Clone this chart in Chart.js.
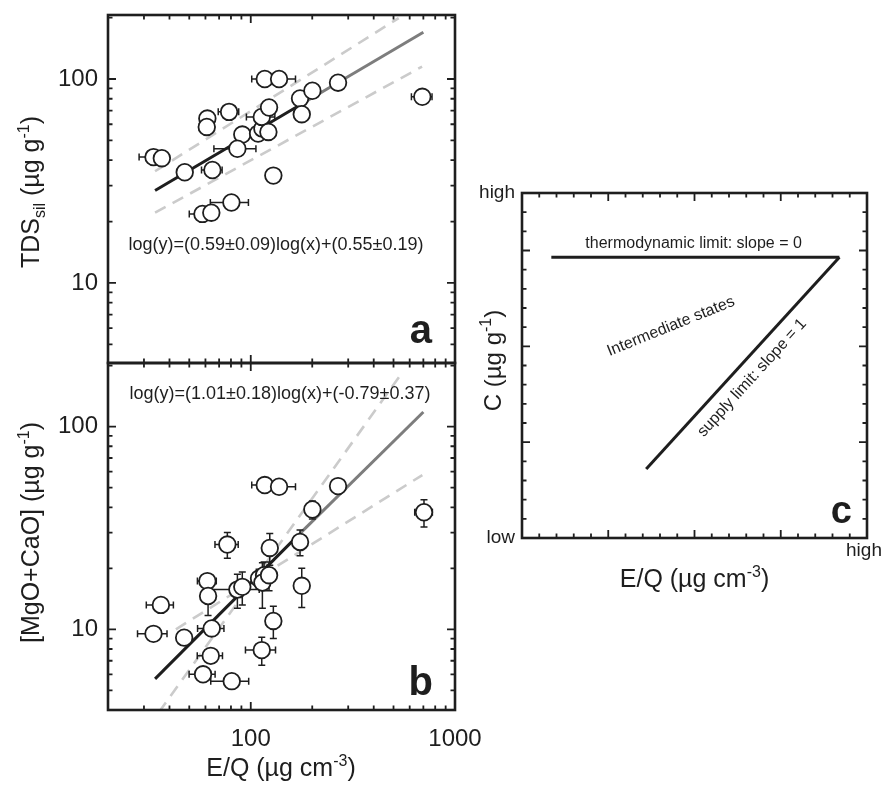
<!DOCTYPE html>
<html>
<head>
<meta charset="utf-8">
<title>E/Q vs concentração</title>
<script src="https://cdn.jsdelivr.net/npm/chart.js@4.4.1/dist/chart.umd.min.js"></script>
<style>
  html, body { margin: 0; padding: 0; background: #fff; }
  body { position: relative; width: 883px; height: 787px; overflow: hidden; }
  canvas { position: absolute; }
  #chart-a { left: 0; top: 0; }
  #chart-b { left: 0; top: 340px; }
  #chart-c { left: 470px; top: 170px; }
</style>
</head>
<body>
<canvas id="chart-a" width="470" height="380"></canvas>
<canvas id="chart-b" width="500" height="447"></canvas>
<canvas id="chart-c" width="413" height="430"></canvas>
<script>
// === dados ===

// Painel a: TDS silicático vs E/Q
const eqA = [33.4, 36.7, 47.5, 64.9, 58, 64.1, 80.4, 61.3, 60.9, 78.3, 90.9, 86, 108.6, 114, 113.2, 122.9, 122, 117.1, 137.6, 129, 174.3, 200.3, 177.7, 267.5, 691.8];
const tdsSil = [41.4, 40.9, 34.9, 35.8, 21.8, 22.1, 24.8, 64.0, 58.2, 69, 53.4, 45.5, 54, 57.1, 65.2, 72.5, 55, 100, 100, 33.6, 80.3, 87.6, 67.2, 95.9, 81.8];
const tdsXErr = [5, 3, 0, 7.5, 8, 3, 17, 3, 5, 9, 3, 20, 3, 4, 18, 8, 3, 16, 28, 0, 4, 4, 3, 5, 80];

// Painel b: MgO+CaO vs E/Q
const eqB = [33.4, 36.3, 47.2, 64.4, 63.7, 58.4, 80.7, 61.3, 61.8, 76.8, 86, 90.9, 109.8, 116.2, 114, 122.9, 123.9, 117.1, 137.6, 129, 113.2, 174.3, 200.3, 267.5, 177.7, 705];
const mgCa = [9.5, 13.2, 9.1, 10.1, 7.4, 6.0, 5.55, 17.3, 14.6, 26.2, 15.7, 16.2, 17.8, 18.5, 17, 18.5, 25.2, 51.5, 50.5, 11, 7.9, 27, 39, 50.9, 16.4, 37.8];
const mgCaXErr = [5.5, 5.5, 0, 9.5, 9, 8.5, 17, 6.5, 3, 10, 24, 5, 4, 4, 5, 5, 5, 16, 28, 3, 19, 5, 5, 6, 4, 70];
const mgCaYErr = [0, 0, 0, 0, 0, 0, 0, 1, 2.9, 3.8, 3, 3, 2, 3, 4.3, 3, 4.5, 0, 0, 2, 1.25, 3.9, 4, 3, 3.6, 5.8];

// Retas de ajuste e limites (extremos)
const fitX = [34, 170, 700];
const fitA = [28.4, 73.5, 169.5];
const fitB = [5.7, 29.0, 118];
const bandAUpX = [34, 530], bandAUp = [35.3, 199];
const bandALoX = [34, 690], bandALo = [22.1, 115];
const bandBUpX = [35.5, 542], bandBUp = [3.9, 180];
const bandBLoX = [43, 692], bandBLo = [10, 57.7];

const eqTextA = 'log(y)=(0.59±0.09)log(x)+(0.55±0.19)';
const eqTextB = 'log(y)=(1.01±0.18)log(x)+(-0.79±0.37)';

// Eixos
const xTicks = [100, 1000];
const yTicks = [10, 100];

// Painel c: esquema conceitual
const thermoX = [0.34, 3.68], thermoY = [2.93, 2.93];
const supplyX = [1.44, 3.68], supplyY = [0.72, 2.93];
const cXTicks = [4], cXTickLabels = ['high'];
const cYTicks = [0, 3.6], cYTickLabels = ['low', 'high'];

// === estilo ===
const FONT = '"Liberation Sans", Arial, Helvetica, sans-serif';
const INK = '#1e1e1e';
const GRAY = '#7d7d7d';
const DASH = '#cbcbcb';

Chart.defaults.font.family = FONT;
Chart.defaults.color = INK;

const pts = (xs, ys) => xs.map((x, i) => ({ x: x, y: ys[i] }));

// Texto com sub/sobrescrito: 'TDS_{sil} (µg g^{-1})'
function rich(s) {
  const parts = [];
  const re = /([_^])\{([^}]*)\}|([^_^]+)/g;
  let m;
  while ((m = re.exec(s))) {
    if (m[3]) parts.push({ t: m[3] });
    else parts.push({ t: m[2], sub: m[1] === '_', sup: m[1] === '^' });
  }
  return parts;
}

function drawRich(ctx, parts, x, y, size, opt) {
  opt = opt || {};
  const weight = opt.bold ? 'bold ' : '';
  const fontOf = p => weight + ((p.sub || p.sup) ? Math.round(size * 0.65) : size) + 'px ' + FONT;
  ctx.save();
  ctx.translate(x, y);
  if (opt.rot) ctx.rotate(opt.rot * Math.PI / 180);
  let total = 0;
  const ws = parts.map(p => {
    ctx.font = fontOf(p);
    const w = ctx.measureText(p.t).width;
    total += w;
    return w;
  });
  let cx = opt.align === 'left' ? 0 : (opt.align === 'right' ? -total : -total / 2);
  const by = opt.baseline ? 0 : size * 0.36;
  ctx.fillStyle = opt.color || INK;
  ctx.textBaseline = 'alphabetic';
  ctx.textAlign = 'left';
  parts.forEach((p, i) => {
    ctx.font = fontOf(p);
    const dy = p.sub ? size * 0.22 : (p.sup ? -size * 0.42 : 0);
    ctx.fillText(p.t, cx, by + dy);
    cx += ws[i];
  });
  ctx.restore();
}

// Posições dos tracinhos (maiores e menores) de cada eixo
function tickMarks(scale) {
  const out = [];
  if (scale.type === 'logarithmic') {
    const d0 = Math.floor(Math.log10(scale.min));
    const d1 = Math.ceil(Math.log10(scale.max));
    for (let d = d0; d <= d1; d++) {
      for (let m = 1; m <= 9; m++) {
        const v = m * Math.pow(10, d);
        if (v >= scale.min * 0.999 && v <= scale.max * 1.001) out.push({ v: v, major: m === 1 });
      }
    }
  } else {
    const n = Math.round((scale.max - scale.min) / 0.2);
    for (let i = 0; i <= n; i++) out.push({ v: scale.min + i * 0.2, major: i % 5 === 0 });
  }
  return out;
}

// Moldura com tracinhos para dentro nos quatro lados
const frameTicks = {
  id: 'frameTicks',
  afterDatasetsDraw(chart) {
    const { ctx, chartArea: a, scales } = chart;
    ctx.save();
    ctx.strokeStyle = INK;
    ctx.lineWidth = 1.8;
    ctx.beginPath();
    tickMarks(scales.x).forEach(t => {
      const px = scales.x.getPixelForValue(t.v);
      const len = t.major ? 8 : 4.5;
      ctx.moveTo(px, a.bottom); ctx.lineTo(px, a.bottom - len);
      ctx.moveTo(px, a.top); ctx.lineTo(px, a.top + len);
    });
    tickMarks(scales.y).forEach(t => {
      const py = scales.y.getPixelForValue(t.v);
      const len = t.major ? 8 : 4.5;
      ctx.moveTo(a.left, py); ctx.lineTo(a.left + len, py);
      ctx.moveTo(a.right, py); ctx.lineTo(a.right - len, py);
    });
    ctx.stroke();
    ctx.lineWidth = 2.6;
    ctx.strokeRect(a.left, a.top, a.right - a.left, a.bottom - a.top);
    ctx.restore();
  }
};

// Barras de erro desenhadas antes dos círculos
const errorBars = {
  id: 'errorBars',
  beforeDatasetDraw(chart, args) {
    const ds = chart.data.datasets[args.index];
    if (!ds.xErr && !ds.yErr) return;
    const ctx = chart.ctx;
    const sx = chart.scales.x, sy = chart.scales.y;
    const cap = 3.5;
    ctx.save();
    ctx.strokeStyle = INK;
    ctx.lineWidth = 1.5;
    ctx.beginPath();
    ds.data.forEach((p, i) => {
      const px = sx.getPixelForValue(p.x), py = sy.getPixelForValue(p.y);
      const ex = ds.xErr ? ds.xErr[i] : 0;
      const ey = ds.yErr ? ds.yErr[i] : 0;
      if (ex > 0) {
        const x0 = sx.getPixelForValue(Math.max(p.x - ex, 1e-3));
        const x1 = sx.getPixelForValue(p.x + ex);
        ctx.moveTo(x0, py); ctx.lineTo(x1, py);
        ctx.moveTo(x0, py - cap); ctx.lineTo(x0, py + cap);
        ctx.moveTo(x1, py - cap); ctx.lineTo(x1, py + cap);
      }
      if (ey > 0) {
        const y0 = sy.getPixelForValue(Math.max(p.y - ey, 1e-3));
        const y1 = sy.getPixelForValue(p.y + ey);
        ctx.moveTo(px, y0); ctx.lineTo(px, y1);
        ctx.moveTo(px - cap, y0); ctx.lineTo(px + cap, y0);
        ctx.moveTo(px - cap, y1); ctx.lineTo(px + cap, y1);
      }
    });
    ctx.stroke();
    ctx.restore();
  }
};

function baseOptions(padding) {
  return {
    responsive: false,
    animation: false,
    events: [],
    layout: { padding: padding },
    plugins: { legend: { display: false }, tooltip: { enabled: false } }
  };
}

function logY(min, max) {
  return {
    type: 'logarithmic', min: min, max: max,
    afterBuildTicks: s => { s.ticks = yTicks.map(v => ({ value: v })); },
    afterFit: s => { s.width = 108; s.paddingTop = 0; s.paddingBottom = 0; },
    grid: { display: false, drawTicks: false },
    border: { display: false },
    ticks: { padding: 10, color: INK, font: { size: 24 }, callback: v => String(v) }
  };
}

function pointSet(xs, ys, xErr, yErr) {
  return {
    data: pts(xs, ys), xErr: xErr, yErr: yErr,
    pointRadius: 8.3, pointBackgroundColor: '#fff', pointBorderColor: INK, pointBorderWidth: 1.8,
    order: 0
  };
}

function fitSet(ys) {
  return {
    data: pts(fitX, ys), showLine: true, pointRadius: 0, borderWidth: 3, borderColor: INK,
    segment: { borderColor: c => c.p0DataIndex === 0 ? INK : GRAY },
    order: 2
  };
}

function bandSet(xs, ys) {
  return {
    data: pts(xs, ys), showLine: true, pointRadius: 0, borderWidth: 2.6,
    borderColor: DASH, borderDash: [12, 8], order: 3
  };
}

// === Painel a ===
const optsA = baseOptions({ left: 0, top: 15, right: 15, bottom: 17 });
optsA.scales = {
  x: { type: 'logarithmic', min: 20, max: 1000, display: false },
  y: logY(4.05, 206)
};
new Chart(document.getElementById('chart-a'), {
  type: 'scatter',
  data: {
    datasets: [
      pointSet(eqA, tdsSil, tdsXErr, null),
      fitSet(fitA),
      bandSet(bandAUpX, bandAUp),
      bandSet(bandALoX, bandALo)
    ]
  },
  options: optsA,
  plugins: [errorBars, frameTicks, {
    id: 'textosA',
    afterDatasetsDraw(chart) {
      const { ctx, chartArea: a } = chart;
      drawRich(ctx, rich('TDS_{sil} (µg g^{-1})'), 30, (a.top + a.bottom) / 2 + 3, 25, { rot: -90 });
      drawRich(ctx, [{ t: eqTextA }], a.left + 168, a.top + 229, 18);
      drawRich(ctx, [{ t: 'a' }], a.right - 23, a.bottom - 20, 40, { bold: true, align: 'right', baseline: true });
    }
  }]
});

// === Painel b ===
const optsB = baseOptions({ left: 0, top: 23, right: 45, bottom: 0 });
optsB.scales = {
  x: {
    type: 'logarithmic', min: 20, max: 1000,
    afterBuildTicks: s => { s.ticks = xTicks.map(v => ({ value: v })); },
    afterFit: s => { s.height = 77; s.paddingLeft = 0; s.paddingRight = 0; },
    grid: { display: false, drawTicks: false },
    border: { display: false },
    ticks: { padding: 15, color: INK, font: { size: 24 }, maxRotation: 0, autoSkip: false, callback: v => String(v) }
  },
  y: logY(4.0, 206)
};
new Chart(document.getElementById('chart-b'), {
  type: 'scatter',
  data: {
    datasets: [
      pointSet(eqB, mgCa, mgCaXErr, mgCaYErr),
      fitSet(fitB),
      bandSet(bandBUpX, bandBUp),
      bandSet(bandBLoX, bandBLo)
    ]
  },
  options: optsB,
  plugins: [errorBars, frameTicks, {
    id: 'textosB',
    afterDatasetsDraw(chart) {
      const { ctx, chartArea: a } = chart;
      drawRich(ctx, rich('[MgO+CaO] (µg g^{-1})'), 30, (a.top + a.bottom) / 2 - 4, 25, { rot: -90 });
      drawRich(ctx, [{ t: eqTextB }], a.left + 172, a.top + 30, 18);
      drawRich(ctx, [{ t: 'b' }], a.right - 22, a.bottom - 15, 40, { bold: true, align: 'right', baseline: true });
      drawRich(ctx, rich('E/Q (µg cm^{-3})'), a.left + 173, a.bottom + 57, 25);
    }
  }]
});

// === Painel c ===
const optsC = baseOptions({ left: 0, top: 23, right: 16, bottom: 0 });
optsC.scales = {
  x: {
    type: 'linear', min: 0, max: 4,
    afterBuildTicks: s => { s.ticks = cXTicks.map(v => ({ value: v })); },
    afterFit: s => { s.height = 62; s.paddingLeft = 0; s.paddingRight = 0; },
    grid: { display: false, drawTicks: false },
    border: { display: false },
    ticks: { padding: 1, labelOffset: -3, color: INK, font: { size: 19 }, maxRotation: 0, autoSkip: false,
             callback: v => { const i = cXTicks.indexOf(v); return i < 0 ? '' : cXTickLabels[i]; } }
  },
  y: {
    type: 'linear', min: 0, max: 3.6,
    afterBuildTicks: s => { s.ticks = cYTicks.map(v => ({ value: v })); },
    afterFit: s => { s.width = 52; s.paddingTop = 0; s.paddingBottom = 0; },
    grid: { display: false, drawTicks: false },
    border: { display: false },
    ticks: { padding: 7, color: INK, font: { size: 19 }, autoSkip: false,
             callback: v => { const i = cYTicks.indexOf(v); return i < 0 ? '' : cYTickLabels[i]; } }
  }
};
// Rótulos do esquema (posição em unidades do gráfico, ângulo em graus)
const cNotes = [
  { t: 'thermodynamic limit: slope = 0', x: 1.99, y: 3.09, rot: 0 },
  { t: 'Intermediate states', x: 1.72, y: 2.22, rot: -22 },
  { t: 'supply limit: slope = 1', x: 2.655, y: 1.68, rot: -47.7 }
];
new Chart(document.getElementById('chart-c'), {
  type: 'scatter',
  data: {
    datasets: [
      { data: pts(thermoX, thermoY), showLine: true, pointRadius: 0, borderWidth: 3, borderColor: INK },
      { data: pts(supplyX, supplyY), showLine: true, pointRadius: 0, borderWidth: 3, borderColor: INK }
    ]
  },
  options: optsC,
  plugins: [frameTicks, {
    id: 'textosC',
    afterDatasetsDraw(chart) {
      const { ctx, chartArea: a, scales } = chart;
      cNotes.forEach(n => {
        drawRich(ctx, [{ t: n.t }], scales.x.getPixelForValue(n.x), scales.y.getPixelForValue(n.y), 16, { rot: n.rot });
      });
      drawRich(ctx, rich('C (µg g^{-1})'), a.left - 30, (a.top + a.bottom) / 2 - 5, 24, { rot: -90 });
      drawRich(ctx, rich('E/Q (µg cm^{-3})'), (a.left + a.right) / 2, a.bottom + 40, 25);
      drawRich(ctx, [{ t: 'c' }], a.right - 15, a.bottom - 15, 38, { bold: true, align: 'right', baseline: true });
    }
  }]
});
</script>
</body>
</html>
